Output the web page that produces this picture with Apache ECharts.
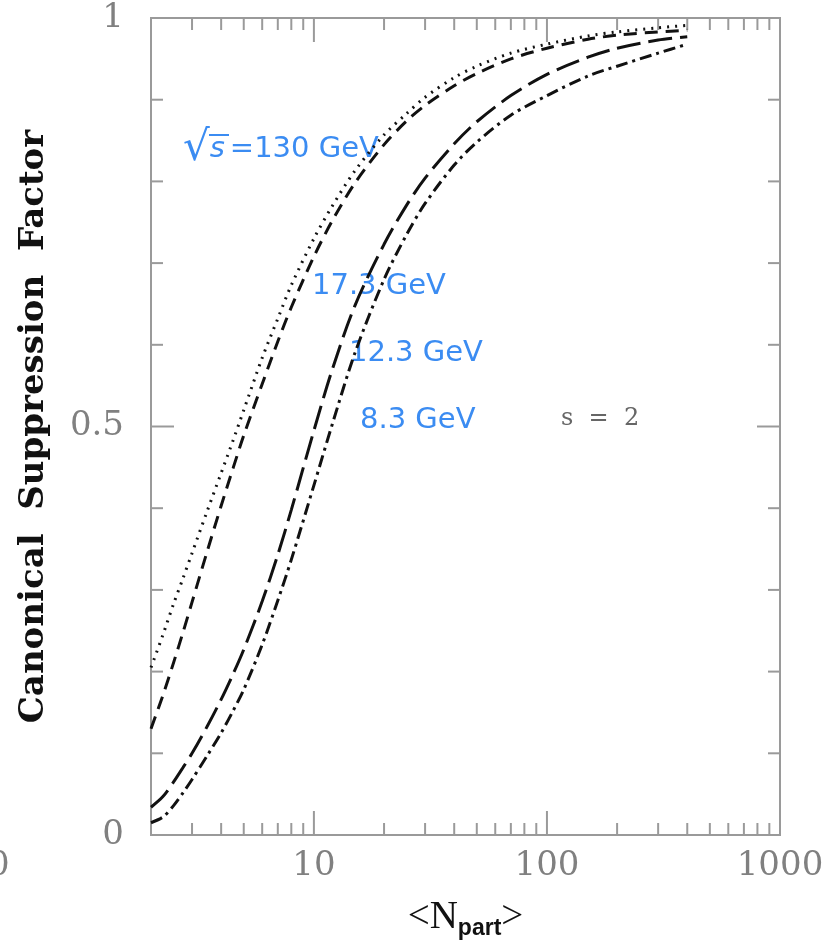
<!DOCTYPE html>
<html>
<head>
<meta charset="utf-8">
<script src="https://cdn.jsdelivr.net/npm/echarts@6/dist/echarts.min.js"></script>
<style>
html, body { margin: 0; padding: 0; background: #fff; }
#main { width: 831px; height: 947px; }
</style>
</head>
<body>
<div id="main"></div>
<script>
// <N_part> sample points shared by every curve
var nPart = [2, 2.25, 2.5, 2.75, 3, 3.5, 4, 4.5, 5, 6, 7, 8, 10, 12, 15, 20, 25, 30, 40, 50, 70, 100, 150, 200, 300, 400];
// canonical suppression factor for each beam energy
var gev130 = [0.205, 0.245, 0.283, 0.315, 0.345, 0.398, 0.443, 0.483, 0.52, 0.584, 0.632, 0.673, 0.73, 0.77, 0.813, 0.857, 0.883, 0.903, 0.927, 0.941, 0.957, 0.968, 0.978, 0.983, 0.988, 0.991];
var gev17 = [0.13, 0.171, 0.211, 0.249, 0.285, 0.349, 0.403, 0.449, 0.489, 0.552, 0.604, 0.646, 0.708, 0.752, 0.798, 0.845, 0.874, 0.893, 0.917, 0.932, 0.95, 0.963, 0.974, 0.979, 0.983, 0.985];
var gev12 = [0.034, 0.047, 0.065, 0.083, 0.1, 0.134, 0.166, 0.197, 0.227, 0.286, 0.343, 0.398, 0.495, 0.57, 0.648, 0.723, 0.771, 0.804, 0.846, 0.873, 0.905, 0.931, 0.952, 0.963, 0.973, 0.977];
var gev8 = [0.015, 0.022, 0.036, 0.052, 0.068, 0.098, 0.125, 0.152, 0.178, 0.233, 0.287, 0.337, 0.428, 0.503, 0.59, 0.68, 0.735, 0.773, 0.82, 0.848, 0.881, 0.905, 0.929, 0.941, 0.957, 0.968];

var xMin = 2, xMax = 1000;
var xTicks = [3, 4, 5, 6, 7, 8, 9, 10, 20, 30, 40, 50, 60, 70, 80, 90, 100, 200, 300, 400, 500, 600, 700, 800, 900];
var xMajor = [10, 100];
var yTicks = [0.1, 0.2, 0.3, 0.4, 0.5, 0.6, 0.7, 0.8, 0.9];
var yMajor = [0.5];

function pairs(ys) {
    return nPart.map(function (x, i) { return [x, ys[i]]; });
}

var tickColor = '#9a9a9a';

function xTickItem(params, api) {
    var v = api.value(0);
    var len = xMajor.indexOf(v) >= 0 ? 24 : 12;
    var b = api.coord([v, 0]);
    var t = api.coord([v, 1]);
    return {
        type: 'group',
        children: [
            { type: 'line', shape: { x1: b[0], y1: b[1], x2: b[0], y2: b[1] - len }, style: { stroke: tickColor, lineWidth: 2 } },
            { type: 'line', shape: { x1: t[0], y1: t[1], x2: t[0], y2: t[1] + len }, style: { stroke: tickColor, lineWidth: 2 } }
        ]
    };
}

function yTickItem(params, api) {
    var v = api.value(1);
    var len = yMajor.indexOf(v) >= 0 ? 23 : 12;
    var y = api.coord([xMin, v])[1];
    var l = params.coordSys.x, r = params.coordSys.x + params.coordSys.width;
    return {
        type: 'group',
        children: [
            { type: 'line', shape: { x1: l, y1: y, x2: l + len, y2: y }, style: { stroke: tickColor, lineWidth: 2 } },
            { type: 'line', shape: { x1: r, y1: y, x2: r - len, y2: y }, style: { stroke: tickColor, lineWidth: 2 } }
        ]
    };
}

function curve(name, ys, dash) {
    return {
        name: name,
        type: 'line',
        data: pairs(ys),
        symbol: 'none',
        smooth: 0.3,
        lineStyle: { color: '#111', width: 3, type: dash, cap: 'butt' },
        z: 3
    };
}

var blue = '#3b8cf2';
var labelFont = { fontFamily: 'DejaVu Sans', fontSize: 29, fill: blue };

var myChart = echarts.init(document.getElementById('main'));
var option = {
    animation: false,
    backgroundColor: '#fff',
    grid: {
        left: 151, right: 51, top: 18, bottom: 112,
        show: true,
        borderColor: tickColor,
        borderWidth: 2
    },
    xAxis: {
        type: 'log',
        logBase: 10,
        min: xMin,
        max: xMax,
        axisLine: { show: false },
        axisTick: { show: false },
        splitLine: { show: false },
        axisLabel: {
            fontFamily: 'DejaVu Serif',
            fontSize: 34,
            color: '#808080',
            margin: 14,
            formatter: function (v) {
                return (v === 10 || v === 100 || v === 1000) ? String(v) : '';
            }
        },
        name: '{a|<N}{b|part}{a|>}',
        nameLocation: 'middle',
        nameGap: 60,
        nameTextStyle: {
            rich: {
                a: { fontFamily: 'Liberation Serif', fontSize: 39, color: '#111' },
                b: { fontFamily: 'Liberation Sans', fontSize: 23, fontWeight: 'bold', color: '#111', padding: [22, 0, 0, 0] }
            }
        }
    },
    yAxis: {
        type: 'value',
        min: 0,
        max: 1,
        interval: 0.5,
        axisLine: { show: false },
        axisTick: { show: false },
        splitLine: { show: false },
        axisLabel: {
            fontFamily: 'DejaVu Serif',
            fontSize: 34,
            color: '#808080',
            margin: 27
        },
        name: 'Canonical  Suppression  Factor',
        nameLocation: 'middle',
        nameGap: 100,
        nameTextStyle: {
            fontFamily: 'DejaVu Serif',
            fontWeight: 'bold',
            fontSize: 34,
            color: '#111'
        }
    },
    graphic: [
        { type: 'text', left: 183, top: 128, style: {
            rich: {
                r: { fontFamily: 'DejaVu Sans', fontSize: 42, fill: blue },
                s: { fontFamily: 'DejaVu Sans', fontStyle: 'italic', fontSize: 29, fill: blue, padding: [0, 3, 0, 0] },
                t: { fontFamily: 'DejaVu Sans', fontSize: 29, fill: blue, padding: [0, 0, 0, 2] }
            },
            text: '{r|√}{s|s}{t|=130 GeV}'
        } },
        { type: 'line', shape: { x1: 209, y1: 135, x2: 229, y2: 135 }, style: { stroke: blue, lineWidth: 2 } },
        { type: 'text', left: 312, top: 272, style: Object.assign({ text: '17.3 GeV' }, labelFont) },
        { type: 'text', left: 349, top: 339, style: Object.assign({ text: '12.3 GeV' }, labelFont) },
        { type: 'text', left: 360, top: 406, style: Object.assign({ text: '8.3 GeV' }, labelFont) },
        { type: 'text', left: 561, top: 407, style: { text: 's  =  2', fontFamily: 'DejaVu Serif', fontSize: 24, fill: '#666' } },
        { type: 'text', left: -12, top: 849, style: { text: '0', fontFamily: 'DejaVu Serif', fontSize: 34, fill: '#808080' } }
    ],
    series: [
        curve('130 GeV', gev130, [2, 6]),
        curve('17.3 GeV', gev17, [13, 8]),
        curve('12.3 GeV', gev12, [24, 8]),
        curve('8.3 GeV', gev8, [12, 5, 3, 5]),
        {
            type: 'custom',
            renderItem: xTickItem,
            data: xTicks.map(function (v) { return [v, 0]; }),
            silent: true,
            clip: false,
            z: 2
        },
        {
            type: 'custom',
            renderItem: yTickItem,
            data: yTicks.map(function (v) { return [xMin, v]; }),
            silent: true,
            clip: false,
            z: 2
        }
    ]
};
myChart.setOption(option);
window.addEventListener('resize', function () {
    myChart.resize();
});
</script>
</body>
</html>
